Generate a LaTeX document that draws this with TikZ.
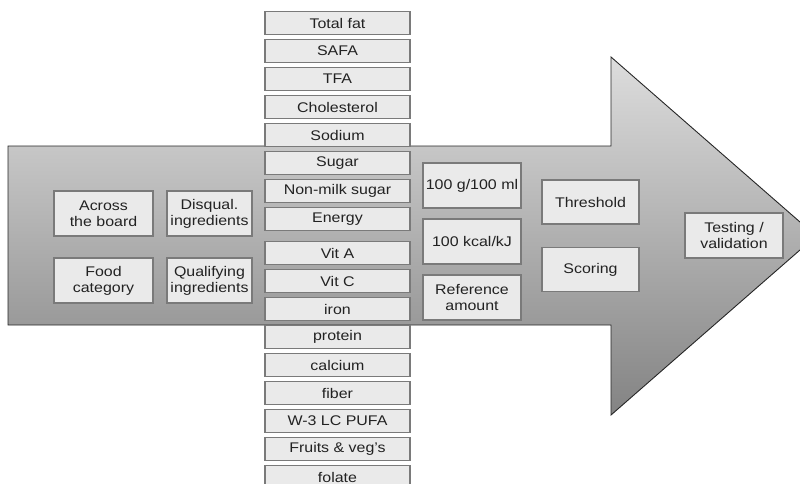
\documentclass[tikz,border=0pt]{standalone}
\usepackage{fontspec}
\setmainfont{Liberation Sans}[FakeStretch=1.14]
\definecolor{boxfill}{HTML}{EAEAEA}
\definecolor{boxline}{HTML}{7A7A7A}
\definecolor{txt}{HTML}{222222}
\definecolor{arrtop}{HTML}{DDDDDD}
\definecolor{arrbot}{HTML}{838383}
\begin{document}
\begin{tikzpicture}[x=1pt,y=-1pt,
  box/.style={draw=boxline, line width=1.1pt, fill=boxfill, inner sep=0pt, align=center, text=txt,
    font=\fontsize{14}{15.8}\selectfont},
  colbox/.style={box, minimum width=145pt, minimum height=22.5pt},
  sidebox/.style={box, minimum width=99pt, minimum height=45pt},
  narrowbox/.style={box, minimum width=85pt, minimum height=45pt},
  arrowshape/.style={draw=black!85, line width=0.9pt, top color=arrtop, bottom color=arrbot}]
\useasboundingbox (0,0) rectangle (800,484);
% big arrow
\path[arrowshape] (8,146) -- (611,146) -- (611,57) -- (816,236) -- (611,415) -- (611,325) -- (8,325) -- cycle;
% left boxes
\node[sidebox] (atb) at (103.5,213.5) {Across\\the board};
\node[narrowbox] (dis) at (209.5,213.5) {Disqual.\\ingredients};
\node[sidebox] (fc) at (103.5,280.5) {Food\\category};
\node[narrowbox] (qi) at (209.5,280.5) {Qualifying\\ingredients};
% nutrient column
\node[colbox] (n1) at (337.5,23) {Total fat};
\node[colbox] (n2) at (337.5,51) {SAFA};
\node[colbox] (n3) at (337.5,79) {TFA};
\node[colbox] (n4) at (337.5,107) {Cholesterol};
\node[colbox] (n5) at (337.5,135) {Sodium};
\node[colbox] (n6) at (337.5,163) {Sugar};
\node[colbox] (n7) at (337.5,191) {Non-milk sugar};
\node[colbox] (n8) at (337.5,219) {Energy};
\node[colbox] (n9) at (337.5,253) {Vit A};
\node[colbox] (n10) at (337.5,281) {Vit C};
\node[colbox] (n11) at (337.5,309) {iron};
\node[colbox] (n12) at (337.5,337) {protein};
\node[colbox] (n13) at (337.5,365) {calcium};
\node[colbox] (n14) at (337.5,393) {fiber};
\node[colbox] (n15) at (337.5,421) {W-3 LC PUFA};
\node[colbox] (n16) at (337.5,449) {Fruits \& veg's};
\node[colbox] (n17) at (337.5,477) {folate};
% reference base
\node[sidebox, minimum width=98pt] (r1) at (472,185.5) {100 g/100 ml};
\node[sidebox, minimum width=98pt] (r2) at (472,241.5) {100 kcal/kJ};
\node[sidebox, minimum width=98pt] (r3) at (472,297.5) {Reference\\amount};
% method
\node[sidebox, minimum width=97pt, minimum height=44pt] (th) at (590.5,202) {Threshold};
\node[sidebox, minimum width=97pt, minimum height=44pt] (sc) at (590.5,269.5) {Scoring};
% testing
\node[sidebox, minimum width=98pt] (tv) at (734,235.5) {Testing /\\validation};
\end{tikzpicture}
\end{document}
